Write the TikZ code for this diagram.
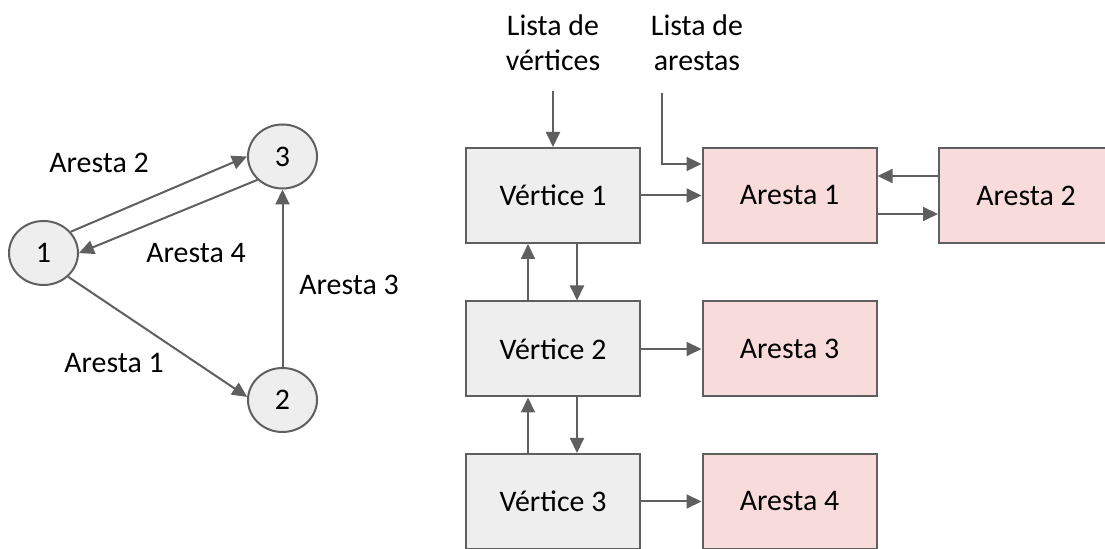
\documentclass[tikz,border=0pt]{standalone}
\usepackage{fontspec}
\setmainfont{Carlito}
\usetikzlibrary{arrows.meta,shapes.geometric}
\definecolor{linegray}{HTML}{5F5F5F}
\definecolor{boxgray}{HTML}{EEEEEE}
\definecolor{boxpink}{HTML}{F8DCDC}
\tikzset{
    vbox/.style={draw=linegray, line width=0.04cm, fill=boxgray, minimum width=3.48cm, minimum height=1.9cm, inner sep=0pt},
    abox/.style={vbox, fill=boxpink},
    gnode/.style={ellipse, draw=linegray, line width=0.04cm, fill=boxgray, minimum width=1.38cm, minimum height=1.28cm, inner sep=0pt},
    link/.style={draw=linegray, line width=0.04cm, -{Triangle[length=0.3cm, width=0.28cm]}}
}

\begin{document}
\begin{tikzpicture}[font=\fontsize{17}{19.9}\selectfont]
    \useasboundingbox (0,0) rectangle (22.1,-10.98);

    \node[gnode] (n1) at (0.87,-5.06) {1};
    \node[gnode] (n3) at (5.65,-3.13) {3};
    \node[gnode] (n2) at (5.65,-8.0) {2};

    \draw[link] (n1.38) -- (n3.180);
    \draw[link] (n3.223) -- (n1.0);
    \draw[link] (n1.-44) -- (n2.175);
    \draw[link] (n2.north) -- (n3.south);

    \node (e2) at (1.98,-3.26) {Aresta 2};
    \node (e4) at (3.92,-5.06) {Aresta 4};
    \node (e3) at (6.98,-5.7) {Aresta 3};
    \node (e1) at (2.28,-7.26) {Aresta 1};


    \node[align=center] (lv) at (11.06,-0.86) {Lista de\\vértices};
    \node[align=center] (la) at (13.94,-0.86) {Lista de\\arestas};
    \coordinate (lvs) at (11.06,-1.82);
    \coordinate (las) at (13.24,-1.86);

    \node[vbox] (v1) at (11.06,-3.91) {Vértice 1};
    \node[vbox] (v2) at (11.06,-6.98) {Vértice 2};
    \node[vbox] (v3) at (11.06,-10.03) {Vértice 3};

    \node[abox] (a1) at (15.79,-3.91) {Aresta 1};
    \node[abox] (a2) at (20.52,-3.91) {Aresta 2};
    \node[abox] (a3) at (15.79,-6.98) {Aresta 3};
    \node[abox] (a4) at (15.79,-10.03) {Aresta 4};

    \draw[link] (lvs) -- (v1.north);
    \draw[link] (las) |- ([yshift=0.63cm]a1.west);

    \draw[link] (v1.east) -- (a1.west);
    \draw[link] ([yshift=0.39cm]a2.west) -- ([yshift=0.39cm]a1.east);
    \draw[link] ([yshift=-0.37cm]a1.east) -- ([yshift=-0.37cm]a2.west);

    \draw[link] ([xshift=0.48cm]v1.south) -- ([xshift=0.48cm]v2.north);
    \draw[link] ([xshift=-0.5cm]v2.north) -- ([xshift=-0.5cm]v1.south);
    \draw[link] (v2.east) -- (a3.west);

    \draw[link] ([xshift=0.48cm]v2.south) -- ([xshift=0.48cm]v3.north);
    \draw[link] ([xshift=-0.5cm]v3.north) -- ([xshift=-0.5cm]v2.south);
    \draw[link] (v3.east) -- (a4.west);

\end{tikzpicture}
\end{document}
